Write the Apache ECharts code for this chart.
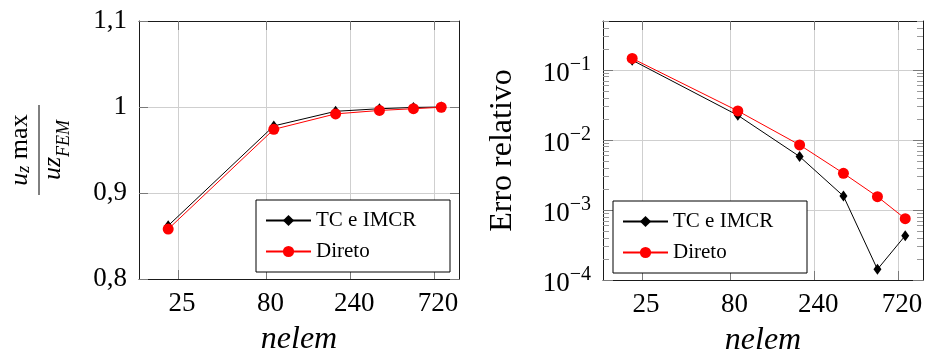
<!DOCTYPE html>
<html>
<head>
<meta charset="utf-8">
<script src="https://cdn.jsdelivr.net/npm/echarts@6/dist/echarts.min.js"></script>
<style>
html,body{margin:0;padding:0;background:#fff;}
#chart{width:925px;height:358px;}
</style>
</head>
<body>
<div id="chart"></div>
<script>
// ---- data ----
const nelem = [22, 88, 198, 352, 550, 792];
const xTickValues = [25, 80, 240, 720];

const ratioTC = [0.862, 0.978, 0.995, 0.998, 0.9995, 1.0];
const ratioDireto = [0.858, 0.974, 0.992, 0.996, 0.998, 0.9997];
const ratioTicks = [0.8, 0.9, 1, 1.1];

const errTC = [0.138, 0.0225, 0.0058, 0.00158, 0.000142, 0.00043];
const errDireto = [0.146, 0.026, 0.0085, 0.00334, 0.00155, 0.00075];
const errTicks = [1e-4, 1e-3, 1e-2, 1e-1];
const errMinorTicks = [2e-4, 3e-4, 4e-4, 5e-4, 6e-4, 7e-4, 8e-4, 9e-4,
  2e-3, 3e-3, 4e-3, 5e-3, 6e-3, 7e-3, 8e-3, 9e-3,
  2e-2, 3e-2, 4e-2, 5e-2, 6e-2, 7e-2, 8e-2, 9e-2,
  2e-1, 3e-1, 4e-1, 5e-1];

const seriesNames = ['TC e IMCR', 'Direto'];

// ---- styling ----
const FONT = 'Liberation Serif';
const FRAME = '#1a1a1a';
const TICK = '#7a7a7a';
const GRIDC = '#cfcfcf';

const chart = echarts.init(document.getElementById('chart'), null, {renderer: 'canvas'});

function pairs(xs, ys) { return xs.map((x, i) => [x, ys[i]]); }

function xAxisPair(gridIndex) {
  const common = {
    type: 'log', logBase: 10, gridIndex: gridIndex, min: 15, max: 1000,
    axisLine: {show: true, onZero: false, lineStyle: {color: FRAME, width: 1}},
    axisTick: {show: true, inside: true, length: 9, customValues: xTickValues, lineStyle: {color: TICK, width: 1}},
    minorTick: {show: false}, minorSplitLine: {show: false}
  };
  return [
    Object.assign({}, common, {
      position: 'bottom',
      axisLabel: {show: true, customValues: xTickValues, formatter: v => String(v), fontFamily: FONT, fontSize: 27, color: '#000', margin: 11, padding: [0, 0, 0, 8]},
      splitLine: {show: true, lineStyle: {color: GRIDC, width: 1}},
      name: 'nelem', nameLocation: 'middle', nameGap: 45,
      nameTextStyle: {fontFamily: FONT, fontStyle: 'italic', fontSize: 32, color: '#000'}
    }),
    Object.assign({}, common, {
      position: 'top',
      axisLabel: {show: false},
      splitLine: {show: false}
    })
  ];
}

const ratioLabel = v => (Math.abs(v - 1) < 1e-9 ? '1' : String(Math.round(v * 10) / 10).replace('.', ','));
const errLabel = v => '{b|10}{s|\u2212' + Math.round(-Math.log10(v)) + '}';

const yAxes = [
  // left plot, left side
  {
    type: 'value', gridIndex: 0, position: 'left', min: 0.8, max: 1.1, interval: 0.1,
    axisLine: {show: true, lineStyle: {color: FRAME, width: 1}},
    axisTick: {show: true, inside: true, length: 9, customValues: ratioTicks, lineStyle: {color: TICK}},
    axisLabel: {customValues: ratioTicks, formatter: ratioLabel, fontFamily: FONT, fontSize: 27, color: '#000', margin: 12},
    splitLine: {show: true, lineStyle: {color: GRIDC, width: 1}}
  },
  // left plot, right side
  {
    type: 'value', gridIndex: 0, position: 'right', min: 0.8, max: 1.1, interval: 0.1,
    axisLine: {show: true, lineStyle: {color: FRAME, width: 1}},
    axisTick: {show: true, inside: true, length: 9, customValues: ratioTicks, lineStyle: {color: TICK}},
    axisLabel: {show: false}, splitLine: {show: false}
  },
  // right plot, left side (major)
  {
    type: 'log', logBase: 10, gridIndex: 1, position: 'left', min: 1e-4, max: 0.5,
    axisLine: {show: true, lineStyle: {color: FRAME, width: 1}},
    axisTick: {show: true, inside: true, length: 10, customValues: errTicks, lineStyle: {color: TICK}},
    axisLabel: {
      customValues: errTicks, formatter: errLabel, color: '#000', margin: 12,
      rich: {
        b: {fontFamily: FONT, fontSize: 27, color: '#000', padding: [7, 0, 0, 0]},
        s: {fontFamily: FONT, fontSize: 20, color: '#000', padding: [0, 0, 11, 0]}
      }
    },
    splitLine: {show: true, lineStyle: {color: GRIDC, width: 1}},
    minorTick: {show: false},
    name: 'Erro relativo', nameLocation: 'middle', nameRotate: 90, nameGap: 84,
    nameTextStyle: {fontFamily: FONT, fontSize: 32, color: '#000'}
  },
  // right plot, right side (major)
  {
    type: 'log', logBase: 10, gridIndex: 1, position: 'right', min: 1e-4, max: 0.5,
    axisLine: {show: true, lineStyle: {color: FRAME, width: 1}},
    axisTick: {show: true, inside: true, length: 10, customValues: errTicks, lineStyle: {color: TICK}},
    axisLabel: {show: false}, splitLine: {show: false}, minorTick: {show: false}
  },
  // right plot, left side (minor)
  {
    type: 'log', logBase: 10, gridIndex: 1, position: 'left', min: 1e-4, max: 0.5,
    axisLine: {show: false},
    axisTick: {show: true, inside: true, length: 6, customValues: errMinorTicks, lineStyle: {color: '#9a9a9a'}},
    axisLabel: {show: false}, splitLine: {show: false}, minorTick: {show: false}
  },
  // right plot, right side (minor)
  {
    type: 'log', logBase: 10, gridIndex: 1, position: 'right', min: 1e-4, max: 0.5,
    axisLine: {show: false},
    axisTick: {show: true, inside: true, length: 6, customValues: errMinorTicks, lineStyle: {color: '#9a9a9a'}},
    axisLabel: {show: false}, splitLine: {show: false}, minorTick: {show: false}
  }
];

function lineSeries(name, xi, yi, data, isTC) {
  return {
    type: 'line', name: name, xAxisIndex: xi, yAxisIndex: yi, data: data,
    symbol: isTC ? 'diamond' : 'circle',
    symbolSize: isTC ? [8, 11] : 11,
    showAllSymbol: true,
    lineStyle: {color: isTC ? '#000' : '#ff0000', width: 1},
    itemStyle: {color: isTC ? '#000' : '#ff0000'},
    emphasis: {disabled: true},
    z: isTC ? 3 : 4
  };
}

function legendAt(left, top) {
  return {
    data: seriesNames,
    orient: 'vertical', left: left, top: top,
    itemWidth: 45, itemHeight: 14, itemGap: 10,
    padding: [10, 8, 10, 9],
    backgroundColor: '#fff', borderColor: '#000', borderWidth: 1, borderRadius: 0,
    formatter: '{t|{name}}',
    textStyle: {
      width: 126, lineHeight: 20, color: '#000', fontFamily: FONT, fontSize: 21,
      rich: {t: {fontFamily: FONT, fontSize: 21, color: '#000', lineHeight: 20}}
    },
    selectedMode: false
  };
}

const fracRich = {
  i: {fontFamily: FONT, fontStyle: 'italic', fontSize: 26, color: '#000'},
  r: {fontFamily: FONT, fontSize: 26, color: '#000'},
  s1: {fontFamily: FONT, fontStyle: 'italic', fontSize: 18, color: '#000', padding: [8, 0, 0, 0]},
  s2: {fontFamily: FONT, fontStyle: 'italic', fontSize: 18, color: '#000', padding: [22, 0, 0, 0]}
};

const option = {
  animation: false,
  backgroundColor: '#fff',
  textStyle: {fontFamily: FONT},
  grid: [
    {left: 139, top: 21, width: 320, height: 258, outerBoundsMode: 'none', containLabel: false},
    {left: 603, top: 21, width: 320, height: 259, outerBoundsMode: 'none', containLabel: false}
  ],
  xAxis: xAxisPair(0).concat(xAxisPair(1)),
  yAxis: yAxes,
  legend: [legendAt(256, 200), legendAt(613, 201)],
  series: [
    lineSeries(seriesNames[0], 0, 0, pairs(nelem, ratioTC), true),
    lineSeries(seriesNames[1], 0, 0, pairs(nelem, ratioDireto), false),
    lineSeries(seriesNames[0], 2, 2, pairs(nelem, errTC), true),
    lineSeries(seriesNames[1], 2, 2, pairs(nelem, errDireto), false)
  ],
  graphic: [
    {
      type: 'group', x: 39, y: 150, rotation: Math.PI / 2,
      children: [
        {type: 'line', shape: {x1: -45, y1: 0, x2: 45, y2: 0}, style: {stroke: '#000', lineWidth: 1}},
        {type: 'text', x: 0, y: -19, style: {text: '{i|u}{s1|z}{r| max}', rich: fracRich, align: 'center', verticalAlign: 'middle'}},
        {type: 'text', x: 0, y: 14, style: {text: '{i|uz}{s2|FEM}', rich: fracRich, align: 'center', verticalAlign: 'middle'}}
      ]
    }
  ]
};

chart.setOption(option);
</script>
</body>
</html>
